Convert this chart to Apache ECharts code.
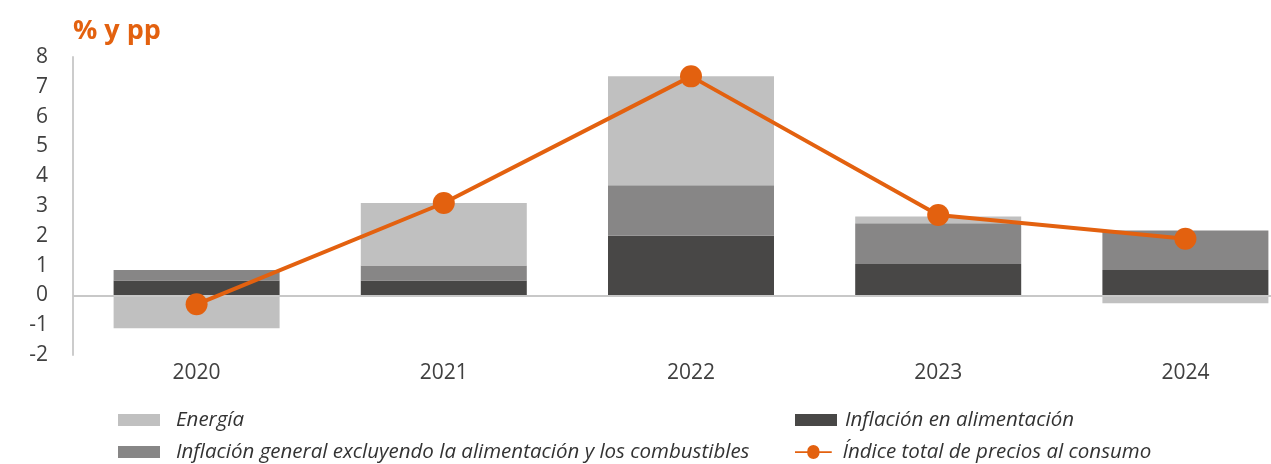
<!DOCTYPE html>
<html>
<head>
<meta charset="utf-8">
<script src="https://cdn.jsdelivr.net/npm/echarts@6/dist/echarts.min.js"></script>
<style>html,body{margin:0;padding:0;background:#fff}#c{width:1271px;height:464px}</style>
</head>
<body>
<div id="c"></div>
<script>
var categories = ['2020', '2021', '2022', '2023', '2024'];
var food = [0.5, 0.5, 2.0, 1.05, 0.85];
var core = [0.35, 0.5, 1.7, 1.37, 1.33];
var energy = [-1.1, 2.1, 3.65, 0.23, -0.26];
var cpi = [-0.3, 3.1, 7.35, 2.7, 1.9];
var yTicks = [-2, -1, 0, 1, 2, 3, 4, 5, 6, 7, 8];

var names = {
  energy: 'Energía',
  food: 'Inflación en alimentación',
  core: 'Inflación general excluyendo la alimentación y los combustibles',
  cpi: 'Índice total de precios al consumo'
};
var FONT = '"Open Sans", sans-serif';
var ORANGE = '#E3610F';

function leg(name, left, top, gap, icon) {
  return {
    data: [{ name: name, icon: icon || 'rect' }],
    left: left, top: top, orient: 'horizontal', padding: 0,
    itemWidth: 42, itemHeight: icon ? 14 : 12,
    itemGap: 0,
    textStyle: { fontFamily: FONT, fontSize: 20.5, fontStyle: 'italic', color: '#333', padding: [0, 0, 0, gap] },
    selectedMode: false
  };
}

var chart = echarts.init(document.getElementById('c'));
chart.setOption({
  animation: false,
  title: {
    text: '% y pp', left: 68, top: 13,
    textStyle: { fontFamily: FONT, fontSize: 27, fontWeight: 'bold', color: ORANGE }
  },
  legend: [
    leg(names.energy, 118, 410, 11),
    leg(names.core, 118, 442, 11),
    leg(names.food, 795, 410, 3),
    leg(names.cpi, 795, 442, 3, 'path://M0,6 L14,6 A7,7 0 0 1 28,6 L42,6 L42,8 L28,8 A7,7 0 0 1 14,8 L0,8 Z')
  ],
  grid: { left: 73, top: 57, height: 298, width: 1236, containLabel: false, outerBoundsMode: 'none' },
  xAxis: {
    type: 'category', data: categories,
    axisLine: { show: true, lineStyle: { color: '#cccccc', width: 2 } },
    axisTick: { show: false },
    axisLabel: { fontFamily: FONT, fontSize: 21, color: '#404040', margin: 8 }
  },
  yAxis: {
    type: 'value', min: yTicks[0], max: yTicks[yTicks.length - 1], interval: 1,
    axisLine: { show: true, lineStyle: { color: '#cccccc', width: 2 } },
    axisTick: { show: false },
    splitLine: { show: false },
    axisLabel: { fontFamily: FONT, fontSize: 21, color: '#404040', margin: 25 }
  },
  series: [
    {
      name: names.food, type: 'bar', stack: 's', data: food, barWidth: 166,
      itemStyle: { color: '#484746' },
      markLine: {
        silent: true, symbol: 'none', label: { show: false },
        lineStyle: { color: '#c8c8c8', width: 2, type: 'solid' },
        data: [{ yAxis: 0 }]
      }
    },
    { name: names.core, type: 'bar', stack: 's', data: core, barWidth: 166, itemStyle: { color: '#878686' } },
    { name: names.energy, type: 'bar', stack: 's', data: energy, barWidth: 166, itemStyle: { color: '#c0c0c0' } },
    {
      name: names.cpi, type: 'line', data: cpi, z: 10,
      symbol: 'circle', symbolSize: 22,
      lineStyle: { color: ORANGE, width: 4 },
      itemStyle: { color: ORANGE }
    }
  ]
});
</script>
</body>
</html>
